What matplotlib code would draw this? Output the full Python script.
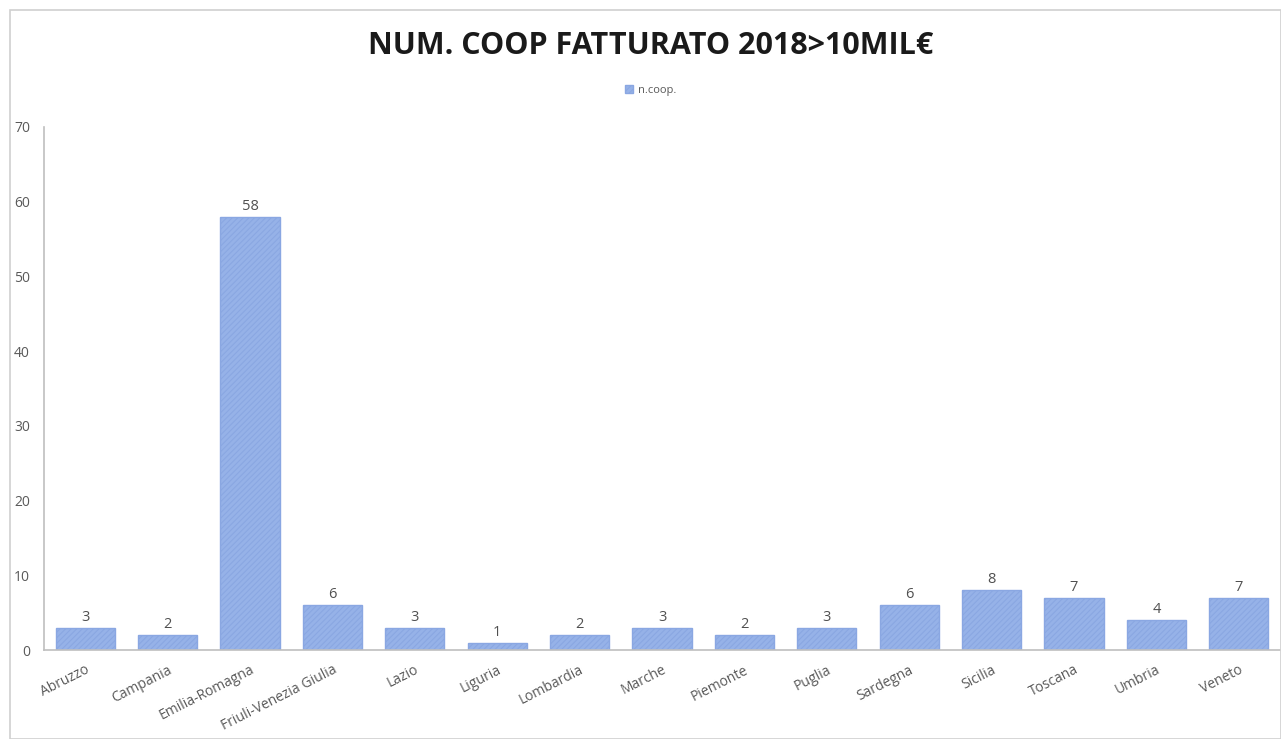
import matplotlib.pyplot as plt
from matplotlib.patches import Rectangle

regioni = ["Abruzzo", "Campania", "Emilia-Romagna", "Friuli-Venezia Giulia", "Lazio",
           "Liguria", "Lombardia", "Marche", "Piemonte", "Puglia", "Sardegna",
           "Sicilia", "Toscana", "Umbria", "Veneto"]
n_coop = [3, 2, 58, 6, 3, 1, 2, 3, 2, 3, 6, 8, 7, 4, 7]
y_ticks = [0, 10, 20, 30, 40, 50, 60, 70]

plt.rcParams['font.family'] = ['Open Sans', 'DejaVu Sans']
plt.rcParams['hatch.color'] = '#eef2fa'
plt.rcParams['hatch.linewidth'] = 0.8

fig = plt.figure(figsize=(12.81, 7.39), dpi=100)
# outer frame of the chart
fig.patches.append(Rectangle((10 / 1281, 0), 1 - 10 / 1281, 1 - 10 / 739,
                             transform=fig.transFigure, fill=False,
                             edgecolor='#d0d0d0', linewidth=1.2))

ax = fig.add_axes([44 / 1281, (739 - 650) / 739, (1280 - 44) / 1281, (650 - 127) / 739])

x = range(len(regioni))
ax.bar(x, n_coop, width=0.72, color='#96b2e8', edgecolor='#8aa7e2',
       linewidth=1.0, hatch='//////', label='n.coop.')

for xi, v in zip(x, n_coop):
    ax.text(xi, v + 0.4, str(v), ha='center', va='bottom', fontsize=10.5, color='#505050')

ax.set_xlim(-0.5, len(regioni) - 0.5)
ax.set_ylim(0, 70)
ax.set_yticks(y_ticks)
ax.set_xticks(list(x))
ax.set_xticklabels(regioni, rotation=27, ha='right', rotation_mode='anchor',
                   fontsize=10, color='#595959')
ax.tick_params(axis='y', labelsize=10, labelcolor='#595959', length=0, pad=10)
ax.tick_params(axis='x', length=0, pad=9)

for s in ['top', 'right']:
    ax.spines[s].set_visible(False)
for s in ['left', 'bottom']:
    ax.spines[s].set_color('#bfbfbf')
    ax.spines[s].set_linewidth(1.2)

fig.text(0.508, 1 - 46 / 739, 'NUM. COOP FATTURATO 2018>10MIL€', ha='center', va='center',
         fontsize=22, fontweight='bold', color='#1a1a1a')

leg = fig.legend(loc='center', bbox_to_anchor=(0.508, 1 - 90 / 739), frameon=False,
                 fontsize=8, handlelength=0.7, handleheight=0.7, handletextpad=0.4)
for t in leg.get_texts():
    t.set_color('#595959')

fig.savefig('out.png', dpi=100)
